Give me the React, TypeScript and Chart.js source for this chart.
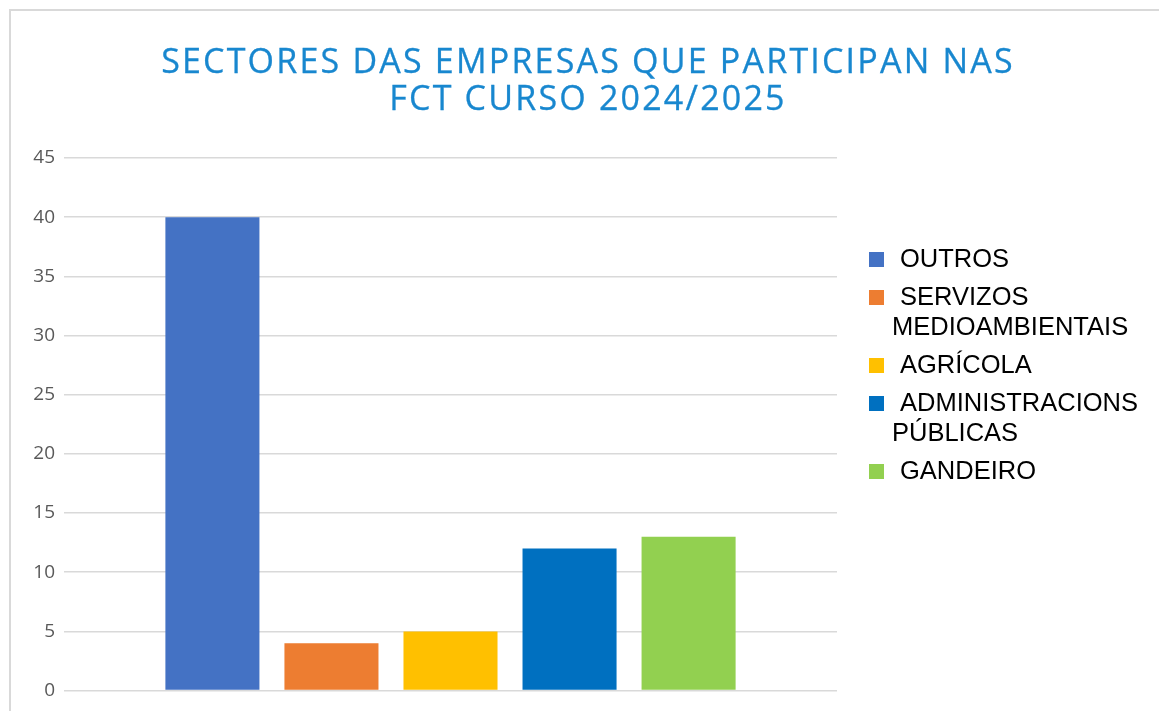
import React, { useEffect, useRef } from "react";
import { Chart, registerables } from "chart.js";

Chart.register(...registerables);

const titleLines = ["SECTORES DAS EMPRESAS QUE PARTICIPAN NAS", "FCT CURSO 2024/2025"];
const categories = ["OUTROS", "SERVIZOS MEDIOAMBIENTAIS", "AGRÍCOLA", "ADMINISTRACIONS PÚBLICAS", "GANDEIRO"];
const values = [40, 4, 5, 12, 13];
const colors = ["#4472C4", "#ED7D31", "#FFC000", "#0070C0", "#92D050"];
const yMin = 0;
const yMax = 45;
const yStep = 5;

export default function App() {
  const canvasRef = useRef<HTMLCanvasElement | null>(null);

  useEffect(() => {
    const canvas = canvasRef.current;
    if (!canvas) return;
    const chart = new Chart(canvas, {
      type: "bar",
      data: {
        labels: [""],
        datasets: categories.map((name, i) => ({
          label: name,
          data: [values[i]],
          backgroundColor: colors[i],
          borderWidth: 0,
          categoryPercentage: 0.77,
          barPercentage: 0.79,
        })),
      },
      options: {
        responsive: false,
        animation: false,
        devicePixelRatio: 1,
        layout: { padding: { left: 0, right: 322, top: 158, bottom: 17 } },
        plugins: {
          legend: { display: false },
          title: { display: false },
          tooltip: { enabled: false },
        },
        scales: {
          x: { display: false },
          y: {
            min: yMin,
            max: yMax,
            afterFit: (s: any) => {
              s.width = 64;
            },
            ticks: {
              stepSize: yStep,
              padding: 9,
              color: "#595959",
              font: { family: "'Open Sans', sans-serif", size: 19 },
            },
            border: { display: false },
            grid: { color: "#d9d9d9", lineWidth: 1.5, drawTicks: false },
          },
        },
      },
    });
    return () => chart.destroy();
  }, []);

  return (
    <div
      style={{
        position: "absolute",
        left: 0,
        top: 0,
        width: 1159,
        height: 711,
        overflow: "hidden",
        background: "#fff",
      }}
    >
      <div
        style={{
          position: "absolute",
          left: 9,
          top: 9,
          width: 1170,
          height: 720,
          border: "2px solid #d9d9d9",
          boxSizing: "border-box",
        }}
      />
      <canvas
        ref={canvasRef}
        width={1159}
        height={711}
        style={{ position: "absolute", left: 0, top: 0, width: 1159, height: 711, display: "block" }}
      />
      <div
        style={{
          position: "absolute",
          left: 9,
          top: 42,
          width: 1158,
          textAlign: "center",
          color: "#1887CF",
          fontFamily: "'Open Sans', sans-serif",
          fontSize: 34,
          lineHeight: "37px",
          letterSpacing: "2.2px",
          WebkitTextStroke: "0.3px #1887CF",
        }}
      >
        {titleLines.map((t, i) => (
          <div key={i}>{t}</div>
        ))}
      </div>
      <div
        style={{
          position: "absolute",
          left: 869,
          top: 243,
          width: 290,
          fontFamily: "'Liberation Sans', Arial, sans-serif",
          fontSize: 25.5,
          lineHeight: "30px",
          color: "#000",
        }}
      >
        {categories.map((name, i) => (
          <div key={i} style={{ position: "relative", paddingLeft: 23, marginBottom: 8, textIndent: 8 }}>
            <span
              style={{
                position: "absolute",
                left: 0,
                top: 9,
                width: 15,
                height: 15,
                background: colors[i],
              }}
            />
            {name}
          </div>
        ))}
      </div>
    </div>
  );
}
